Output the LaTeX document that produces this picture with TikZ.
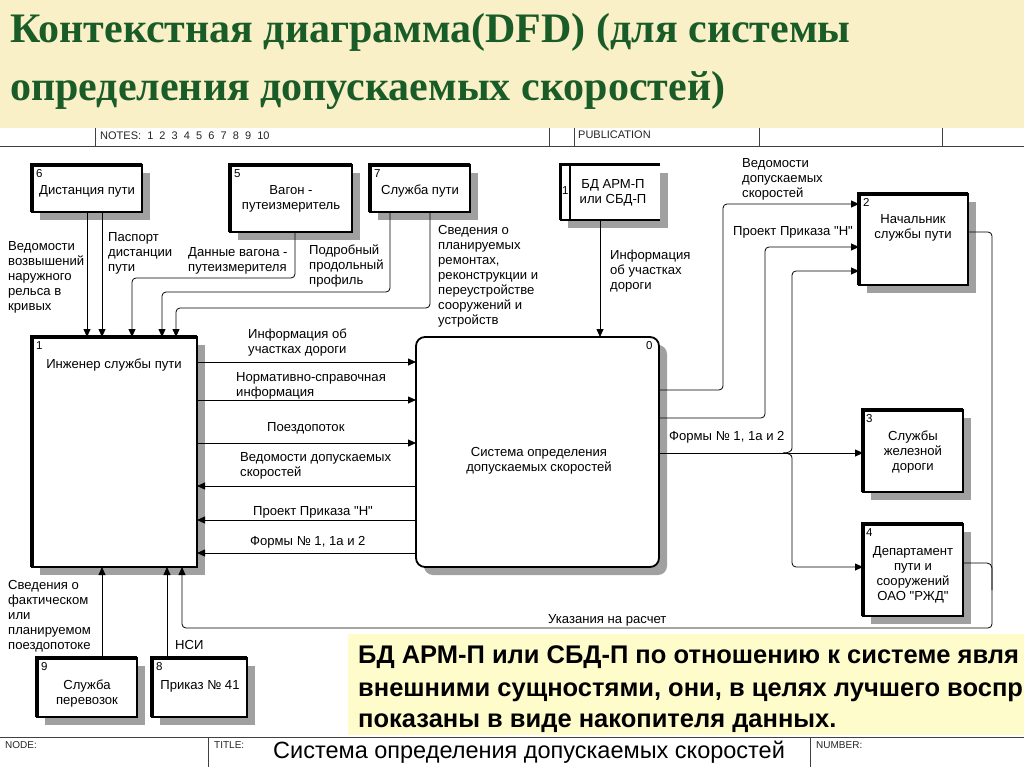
\documentclass[tikz,border=0pt]{standalone}
\usepackage{fontspec}
\setmainfont{Liberation Sans}[Ligatures=TeXOff]
\newfontfamily\titleserif{Liberation Serif}
\usetikzlibrary{arrows.meta,shadows}
\definecolor{cream}{RGB}{250,240,200}
\definecolor{callout}{RGB}{255,252,204}
\definecolor{titlegreen}{RGB}{26,92,40}
\definecolor{shadowgray}{RGB}{160,160,160}
\newcommand\lblfont{\fontsize{13.1}{15}\selectfont}
\newcommand\numfont{\fontsize{11.5}{13}\selectfont}
\newcommand\heavyedge[1]{\draw[line width=3.4pt] (#1.south west) -- (#1.north west) -- (#1.north east);}
\begin{document}
\begin{tikzpicture}[x=1pt,y=-1pt,
  box/.style={rectangle, draw, line width=1.8pt, fill=white, inner sep=0pt, outer sep=0pt,
    general shadow={fill=shadowgray, shadow xshift=8pt, shadow yshift=-8pt}},
  procbox/.style={box, rounded corners=9pt},
  lbl/.style={font=\lblfont, align=left, anchor=north west, inner sep=0pt},
  slbl/.style={font=\lblfont, anchor=west, inner sep=0pt},
  clbl/.style={font=\lblfont, align=center, inner sep=0pt},
  numlbl/.style={font=\numfont, anchor=north west, inner sep=0pt},
  flow/.style={line width=0.8pt, rounded corners=4pt, -{Triangle[length=8pt,width=7pt]}},
  fline/.style={line width=0.8pt, rounded corners=5pt},
  formline/.style={line width=0.8pt, draw=black!75},
  formtxt/.style={font=\fontsize{11}{13}\selectfont, anchor=west, inner sep=0pt, text=black!85},
  titletext/.style={font=\titleserif\bfseries\fontsize{42}{50}\selectfont, text=titlegreen, anchor=base west, inner sep=0pt},
  callouttext/.style={font=\bfseries\fontsize{25.5}{30}\selectfont, anchor=base west, inner sep=0pt}
]
\useasboundingbox (0,0) rectangle (1024,767);
\fill[white] (0,0) rectangle (1024,767);
\fill[cream] (0,0) rectangle (1024,128);
\node[titletext] (t1) at (10,43) {Контекстная диаграмма(DFD) (для системы};
\node[titletext] (t2) at (10,101) {определения допускаемых скоростей)};

% form header
\draw[formline] (0,146) -- (1024,146);
\foreach \xx in {95,549,574,759,942} \draw[formline] (\xx,128) -- (\xx,146);
\node[formtxt] (notes) at (100,136) {NOTES: \ 1 \ 2 \ 3 \ 4 \ 5 \ 6 \ 7 \ 8 \ 9 \ 10};
\node[formtxt] (pub) at (578,135) {PUBLICATION};

% boxes
\node[box, minimum width=110pt, minimum height=47pt] (b6) at (87,188.5) {};
\node[box, minimum width=122pt, minimum height=67pt] (b5) at (291,198.5) {};
\node[box, minimum width=100pt, minimum height=47pt] (b7) at (420,188.5) {};
\node[box, minimum width=109pt, minimum height=91pt] (b2) at (913.5,239.5) {};
\node[box, minimum width=100pt, minimum height=82pt] (b3) at (913,451) {};
\node[box, minimum width=100pt, minimum height=92pt] (b4) at (913,570) {};
\node[box, minimum width=165pt, minimum height=230pt] (b1) at (114.5,452) {};
\node[procbox, minimum width=243pt, minimum height=230pt] (b0) at (537.5,452) {};
\node[box, minimum width=100pt, minimum height=59pt] (b9) at (87,687.5) {};
\node[box, minimum width=95pt, minimum height=59pt] (b8) at (199.5,687.5) {};
\node[rectangle, fill=white, inner sep=0pt, outer sep=0pt, minimum width=100pt, minimum height=55pt,
  general shadow={fill=shadowgray, shadow xshift=8pt, shadow yshift=-8pt}] (st) at (610,192.5) {};
\draw[line width=1.6pt] (st.south west) -- (st.south east);
\draw[line width=3pt] (st.north east) -- (st.north west) -- (st.south west);
\draw[line width=1.2pt] ([xshift=10pt]st.north west) -- ([xshift=10pt]st.south west);
\foreach \n in {b6,b5,b7,b2,b3,b4,b1,b9,b8} {\heavyedge{\n}}

% box texts
\node[numlbl] (n6) at (36,169) {6};
\node[clbl] (t6) at (87,191) {Дистанция пути};
\node[numlbl] (n5) at (234,169) {5};
\node[clbl] (t5) at (291,199) {Вагон -\\путеизмеритель};
\node[numlbl] (n7) at (374,169) {7};
\node[clbl] (t7) at (420,191) {Служба пути};
\node[numlbl] (n1s) at (562,186) {1};
\node[clbl] (tst) at (613,193) {БД АРМ-П\\или СБД-П};
\node[numlbl] (n2) at (863,198) {2};
\node[clbl] (t2b) at (913,228) {Начальник\\службы пути};
\node[numlbl] (n3) at (866,414) {3};
\node[clbl] (t3) at (913,452) {Службы\\железной\\дороги};
\node[numlbl] (n4) at (866,528) {4};
\node[clbl] (t4) at (913,575) {Департамент\\пути и\\сооружений\\ОАО "РЖД"};
\node[numlbl] (n1) at (36,341) {1};
\node[clbl] (t1b) at (114,365) {Инженер службы пути};
\node[numlbl] (n0) at (646,341) {0};
\node[clbl] (t0) at (539,461) {Система определения\\допускаемых скоростей};
\node[numlbl] (n9) at (41,662) {9};
\node[clbl] (t9) at (87,694) {Служба\\перевозок};
\node[numlbl] (n8) at (156,662) {8};
\node[clbl] (t8) at (200,686) {Приказ № 41};

% top inputs to box 1
\draw[flow] (87,0 |- b6.south) -- (87,0 |- b1.north);
\draw[flow] (102,0 |- b6.south) -- (102,0 |- b1.north);
\draw[flow] (295,0 |- b5.south) -- (295,278) -- (132,278) -- (132,0 |- b1.north);
\draw[flow] (390,0 |- b7.south) -- (390,292) -- (162,292) -- (162,0 |- b1.north);
\draw[flow] (430,0 |- b7.south) -- (430,308) -- (176,308) -- (176,0 |- b1.north);
\draw[flow] (600,0 |- st.south) -- (600,0 |- b0.north);

% box 1 <-> box 0
\draw[flow] (b1.east |- 0,362) -- (b0.west |- 0,362);
\draw[flow] (b1.east |- 0,400) -- (b0.west |- 0,400);
\draw[flow] (b1.east |- 0,443) -- (b0.west |- 0,443);
\draw[flow] (b0.west |- 0,486) -- (b1.east |- 0,486);
\draw[flow] (b0.west |- 0,520) -- (b1.east |- 0,520);
\draw[flow] (b0.west |- 0,553) -- (b1.east |- 0,553);

% right side
\draw[flow] (b0.east |- 0,390) -- (723,390) -- (723,204) -- (b2.west |- 0,204);
\draw[flow] (b0.east |- 0,418) -- (765,418) -- (765,247) -- (b2.west |- 0,247);
\coordinate (br) at (783,453);
\draw[flow] (b0.east |- 0,453) -- (b3.west |- 0,453);
\draw[flow] (br) .. controls (789,453) and (792,451) .. (792,444) -- (792,271) -- (b2.west |- 0,271);
\draw[flow] (br) .. controls (789,453) and (792,455) .. (792,462) -- (792,567) -- (b4.west |- 0,567);

% feedback
\draw[flow] (b2.east |- 0,232) -- (992,232) -- (992,628) -- (182,628) -- (182,0 |- b1.south);
\draw[fline] (b4.east |- 0,563) -- (992,563) -- (992,590);

% bottom inputs
\draw[flow] (102,0 |- b9.north) -- (102,0 |- b1.south);
\draw[flow] (167,0 |- b8.north) -- (167,0 |- b1.south);

% flow labels
\node[lbl] (la) at (8,241) {Ведомости\\возвышений\\наружного\\рельса в\\кривых};
\node[lbl] (lb) at (108,232) {Паспорт\\дистанции\\пути};
\node[lbl] (lc) at (188,247) {Данные вагона -\\путеизмерителя};
\node[lbl] (ld) at (309,245) {Подробный\\продольный\\профиль};
\node[lbl] (le) at (438,225) {Сведения о\\планируемых\\ремонтах,\\реконструкции и\\переустройстве\\сооружений и\\устройств};
\node[lbl] (lf) at (610,250) {Информация\\об участках\\дороги};
\node[lbl] (lg) at (742,158) {Ведомости\\допускаемых\\скоростей};
\node[slbl] (lh) at (733,232) {Проект Приказа "Н"};
\node[slbl] (li) at (669,437) {Формы № 1, 1а и 2};
\node[lbl] (lj) at (248,329) {Информация об\\участках дороги};
\node[lbl] (lk) at (236,372) {Нормативно-справочная\\информация};
\node[slbl] (ll) at (267,428) {Поездопоток};
\node[lbl] (lm) at (240,452) {Ведомости допускаемых\\скоростей};
\node[slbl] (ln) at (253,512) {Проект Приказа "Н"};
\node[slbl] (lo) at (250,542) {Формы № 1, 1а и 2};
\node[slbl] (lp) at (548,620) {Указания на расчет};
\node[lbl] (lq) at (8,580) {Сведения о\\фактическом\\или\\планируемом\\поездопотоке};
\node[slbl] (lr) at (175,645) {НСИ};

% callout
\fill[callout] (348,634) rectangle (1024,735);
\node[callouttext] (c1) at (358,663) {БД АРМ-П или СБД-П по отношению к системе явля};
\node[callouttext] (c2) at (358,696) {внешними сущностями, они, в целях лучшего воспр};
\node[callouttext] (c3) at (358,727) {показаны в виде накопителя данных.};

% form footer
\draw[formline] (0,737) -- (1024,737);
\draw[formline] (208,737) -- (208,767);
\draw[formline] (810,737) -- (810,767);
\node[formtxt, font=\fontsize{10}{12}\selectfont] (nd) at (5,745) {NODE:};
\node[formtxt, font=\fontsize{10}{12}\selectfont] (tt) at (214,745) {TITLE:};
\node[formtxt, font=\fontsize{10}{12}\selectfont] (nb) at (816,745) {NUMBER:};
\node[font=\fontsize{23.5}{28}\selectfont, anchor=base west, inner sep=0pt] (ft) at (273,758) {Система определения допускаемых скоростей};
\end{tikzpicture}
\end{document}
